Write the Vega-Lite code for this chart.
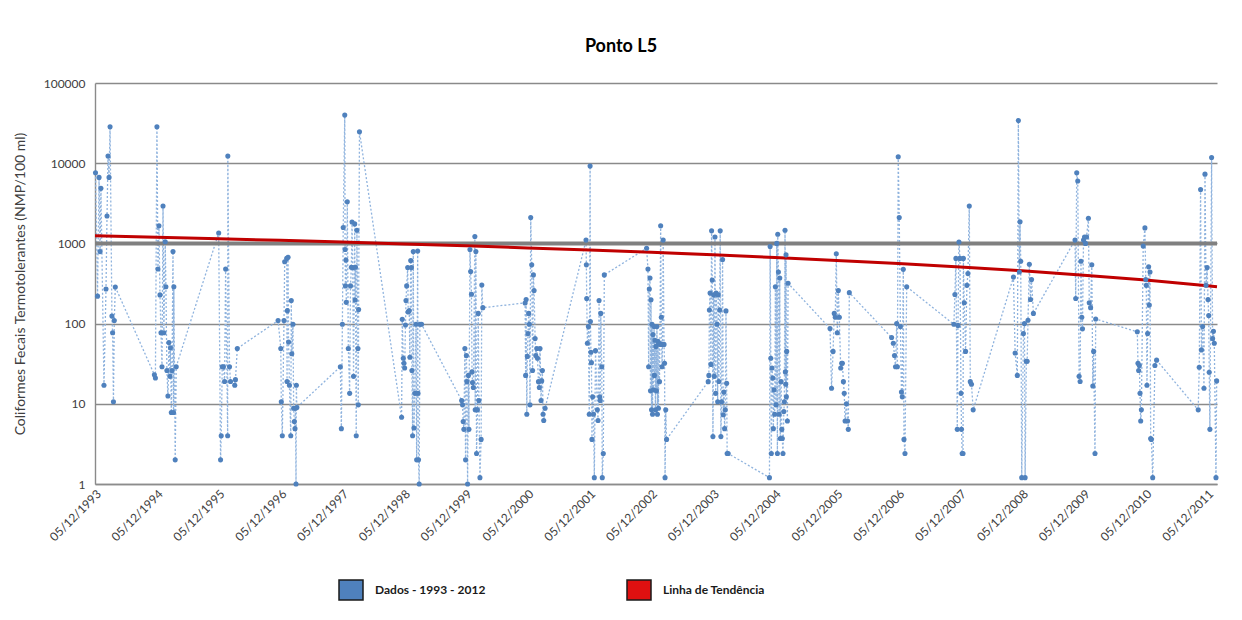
{
  "$schema": "https://vega.github.io/schema/vega-lite/v6.json",
  "width": 1122,
  "height": 401,
  "autosize": {"type": "none"},
  "padding": {"left": 95, "top": 83, "right": 25, "bottom": 136},
  "background": "white",
  "title": {"text": "Ponto L5", "font": "Lato", "fontSize": 18, "fontWeight": "bold", "color": "#000000", "anchor": "middle", "dx": -35, "offset": 21},
  "datasets": {
    "dados": [
      {"data":"1993-12-08","valor":7600},{"data":"1993-12-20","valor":220},{"data":"1993-12-29","valor":6650},{"data":"1994-01-04","valor":790},{"data":"1994-01-09","valor":4860},{"data":"1994-01-27","valor":17},{"data":"1994-02-08","valor":270},{"data":"1994-02-14","valor":2200},{"data":"1994-02-20","valor":12300},{"data":"1994-02-26","valor":6650},{"data":"1994-03-04","valor":28500},{"data":"1994-03-15","valor":124},{"data":"1994-03-19","valor":77},{"data":"1994-03-24","valor":10.6},{"data":"1994-03-29","valor":109},{"data":"1994-04-04","valor":286},
      {"data":"1994-11-21","valor":23},{"data":"1994-11-27","valor":21},{"data":"1994-12-06","valor":28500},{"data":"1994-12-12","valor":480},{"data":"1994-12-18","valor":1660},{"data":"1994-12-24","valor":228},{"data":"1994-12-30","valor":77},{"data":"1995-01-05","valor":29},{"data":"1995-01-11","valor":2930},{"data":"1995-01-16","valor":77},{"data":"1995-01-24","valor":1050},{"data":"1995-01-28","valor":288},{"data":"1995-02-03","valor":26},{"data":"1995-02-09","valor":12.5},{"data":"1995-02-15","valor":58},{"data":"1995-02-21","valor":22},{"data":"1995-02-24","valor":50},{"data":"1995-03-01","valor":7.8},{"data":"1995-03-05","valor":26},{"data":"1995-03-11","valor":790},{"data":"1995-03-14","valor":7.8},{"data":"1995-03-16","valor":288},{"data":"1995-03-24","valor":2},{"data":"1995-03-30","valor":29},
      {"data":"1995-12-06","valor":1350},{"data":"1995-12-17","valor":2},{"data":"1995-12-21","valor":4},{"data":"1995-12-27","valor":29},{"data":"1996-01-03","valor":29},{"data":"1996-01-10","valor":19},{"data":"1996-01-16","valor":478},{"data":"1996-01-28","valor":4},{"data":"1996-01-29","valor":12300},{"data":"1996-02-08","valor":29},{"data":"1996-02-14","valor":19},{"data":"1996-03-10","valor":17},{"data":"1996-03-14","valor":20},{"data":"1996-03-25","valor":49},
      {"data":"1996-11-21","valor":109},{"data":"1996-12-07","valor":49},{"data":"1996-12-10","valor":10.6},{"data":"1996-12-16","valor":4},{"data":"1996-12-26","valor":109},{"data":"1996-12-30","valor":590},{"data":"1997-01-11","valor":650},{"data":"1997-01-13","valor":19},{"data":"1997-01-15","valor":145},{"data":"1997-01-19","valor":670},{"data":"1997-01-22","valor":59},{"data":"1997-01-27","valor":17},{"data":"1997-02-04","valor":4},{"data":"1997-02-07","valor":194},{"data":"1997-02-10","valor":42},{"data":"1997-02-17","valor":98},{"data":"1997-02-21","valor":8.8},{"data":"1997-02-25","valor":6},{"data":"1997-03-01","valor":4.9},{"data":"1997-03-04","valor":8.8},{"data":"1997-03-07","valor":1},{"data":"1997-03-09","valor":17},{"data":"1997-03-12","valor":9},
      {"data":"1997-11-24","valor":29},{"data":"1997-11-30","valor":4.9},{"data":"1997-12-06","valor":98},{"data":"1997-12-11","valor":1580},{"data":"1997-12-20","valor":39800},{"data":"1997-12-22","valor":840},{"data":"1997-12-24","valor":295},{"data":"1997-12-27","valor":620},{"data":"1997-12-29","valor":184},{"data":"1998-01-04","valor":3300},{"data":"1998-01-10","valor":49},{"data":"1998-01-18","valor":13.5},{"data":"1998-01-23","valor":295},{"data":"1998-01-28","valor":505},{"data":"1998-02-01","valor":1850},{"data":"1998-02-05","valor":500},{"data":"1998-02-10","valor":22},{"data":"1998-02-17","valor":1750},{"data":"1998-02-19","valor":197},{"data":"1998-02-21","valor":505},{"data":"1998-02-26","valor":4},{"data":"1998-03-02","valor":1460},{"data":"1998-03-08","valor":49},{"data":"1998-03-10","valor":9.7},{"data":"1998-03-12","valor":150},{"data":"1998-03-17","valor":24700},
      {"data":"1998-11-21","valor":6.8},{"data":"1998-11-25","valor":113},{"data":"1998-12-01","valor":37},{"data":"1998-12-05","valor":32},{"data":"1998-12-09","valor":28},{"data":"1998-12-14","valor":96},{"data":"1998-12-17","valor":194},{"data":"1998-12-21","valor":295},{"data":"1998-12-27","valor":500},{"data":"1998-12-30","valor":140},{"data":"1999-01-05","valor":145},{"data":"1999-01-09","valor":38},{"data":"1999-01-14","valor":610},{"data":"1999-01-18","valor":500},{"data":"1999-01-21","valor":26},{"data":"1999-01-25","valor":4},{"data":"1999-01-29","valor":790},{"data":"1999-02-02","valor":5},{"data":"1999-02-08","valor":13.5},{"data":"1999-02-14","valor":98},{"data":"1999-02-18","valor":2},{"data":"1999-02-24","valor":805},{"data":"1999-02-26","valor":13.5},{"data":"1999-03-01","valor":2},{"data":"1999-03-05","valor":1},{"data":"1999-03-09","valor":98},{"data":"1999-03-19","valor":98},
      {"data":"1999-11-11","valor":11},{"data":"1999-11-16","valor":9.7},{"data":"1999-11-20","valor":6},{"data":"1999-11-24","valor":4.8},{"data":"1999-11-30","valor":49},{"data":"1999-12-04","valor":2},{"data":"1999-12-09","valor":40},{"data":"1999-12-12","valor":18.9},{"data":"1999-12-16","valor":1},{"data":"1999-12-21","valor":22.6},{"data":"1999-12-24","valor":4.8},{"data":"1999-12-30","valor":840},{"data":"2000-01-03","valor":445},{"data":"2000-01-08","valor":232},{"data":"2000-01-11","valor":25},{"data":"2000-01-14","valor":18.4},{"data":"2000-01-19","valor":16},{"data":"2000-01-28","valor":1220},{"data":"2000-01-30","valor":8.4},{"data":"2000-02-03","valor":790},{"data":"2000-02-07","valor":2.4},{"data":"2000-02-12","valor":8.4},{"data":"2000-02-17","valor":134},{"data":"2000-02-21","valor":11},{"data":"2000-02-27","valor":1.2},{"data":"2000-03-05","valor":3.6},{"data":"2000-03-09","valor":303},{"data":"2000-03-15","valor":158},
      {"data":"2000-11-20","valor":181},{"data":"2000-11-23","valor":22.6},{"data":"2000-11-26","valor":200},{"data":"2000-11-30","valor":7.4},{"data":"2000-12-03","valor":39},{"data":"2000-12-07","valor":75},{"data":"2000-12-11","valor":134},{"data":"2000-12-15","valor":98},{"data":"2000-12-19","valor":9.7},{"data":"2000-12-23","valor":2100},{"data":"2000-12-29","valor":540},{"data":"2001-01-03","valor":26},{"data":"2001-01-08","valor":405},{"data":"2001-01-12","valor":258},{"data":"2001-01-18","valor":65},{"data":"2001-01-22","valor":40},{"data":"2001-01-28","valor":49},{"data":"2001-02-01","valor":37},{"data":"2001-02-07","valor":18.9},{"data":"2001-02-12","valor":16},{"data":"2001-02-16","valor":49},{"data":"2001-02-22","valor":11},{"data":"2001-02-26","valor":19.3},{"data":"2001-03-02","valor":26},{"data":"2001-03-06","valor":7.4},{"data":"2001-03-10","valor":6.2},{"data":"2001-03-18","valor":8.8},
      {"data":"2001-11-15","valor":1100},{"data":"2001-11-17","valor":540},{"data":"2001-11-19","valor":206},{"data":"2001-11-23","valor":57},{"data":"2001-11-29","valor":92},{"data":"2001-12-04","valor":7.4},{"data":"2001-12-09","valor":9200},{"data":"2001-12-11","valor":106},{"data":"2001-12-14","valor":44},{"data":"2001-12-17","valor":32.6},{"data":"2001-12-20","valor":3.6},{"data":"2001-12-24","valor":12.2},{"data":"2001-12-29","valor":7.4},{"data":"2002-01-03","valor":1.2},{"data":"2002-01-10","valor":46},{"data":"2002-01-21","valor":8.4},{"data":"2002-01-25","valor":6.2},{"data":"2002-01-31","valor":194},{"data":"2002-02-04","valor":12.2},{"data":"2002-02-07","valor":11},{"data":"2002-02-10","valor":134},{"data":"2002-02-16","valor":29},{"data":"2002-02-19","valor":1.2},{"data":"2002-02-25","valor":2.4},{"data":"2002-03-03","valor":405},
      {"data":"2002-11-08","valor":870},{"data":"2002-11-16","valor":478},{"data":"2002-11-20","valor":29},{"data":"2002-11-24","valor":270},{"data":"2002-11-28","valor":370},{"data":"2002-12-01","valor":14.5},{"data":"2002-12-04","valor":198},{"data":"2002-12-07","valor":8.4},{"data":"2002-12-10","valor":98},{"data":"2002-12-13","valor":7.4},{"data":"2002-12-16","valor":73},{"data":"2002-12-19","valor":14.9},{"data":"2002-12-22","valor":92},{"data":"2002-12-24","valor":22.6},{"data":"2002-12-27","valor":62},{"data":"2002-12-30","valor":8.4},{"data":"2003-01-02","valor":52},{"data":"2003-01-05","valor":14.5},{"data":"2003-01-08","valor":92},{"data":"2003-01-11","valor":7.4},{"data":"2003-01-14","valor":60},{"data":"2003-01-17","valor":8.8},{"data":"2003-01-20","valor":57},{"data":"2003-01-23","valor":18.9},{"data":"2003-01-26","valor":55},{"data":"2003-01-30","valor":1660},{"data":"2003-02-03","valor":120},{"data":"2003-02-07","valor":29},{"data":"2003-02-10","valor":55},{"data":"2003-02-14","valor":1100},{"data":"2003-02-19","valor":55},{"data":"2003-02-22","valor":32},{"data":"2003-02-25","valor":1.2},{"data":"2003-03-01","valor":8.4},{"data":"2003-03-06","valor":3.6},
      {"data":"2003-11-07","valor":18.9},{"data":"2003-11-11","valor":22.6},{"data":"2003-11-14","valor":148},{"data":"2003-11-18","valor":240},{"data":"2003-11-23","valor":31},{"data":"2003-11-27","valor":1440},{"data":"2003-12-01","valor":350},{"data":"2003-12-05","valor":3.9},{"data":"2003-12-09","valor":228},{"data":"2003-12-13","valor":22},{"data":"2003-12-17","valor":1200},{"data":"2003-12-21","valor":13.5},{"data":"2003-12-24","valor":240},{"data":"2003-12-29","valor":98},{"data":"2004-01-02","valor":10.6},{"data":"2004-01-05","valor":228},{"data":"2004-01-09","valor":19},{"data":"2004-01-14","valor":148},{"data":"2004-01-17","valor":1440},{"data":"2004-01-21","valor":3.9},{"data":"2004-01-25","valor":10.6},{"data":"2004-01-31","valor":630},{"data":"2004-02-04","valor":7.3},{"data":"2004-02-08","valor":14},{"data":"2004-02-12","valor":4.9},{"data":"2004-02-16","valor":8.4},{"data":"2004-02-20","valor":144},{"data":"2004-02-24","valor":18},{"data":"2004-02-27","valor":2.4},{"data":"2004-03-04","valor":2.4},
      {"data":"2004-11-03","valor":1.2},{"data":"2004-11-07","valor":915},{"data":"2004-11-11","valor":37},{"data":"2004-11-14","valor":2.4},{"data":"2004-11-18","valor":28},{"data":"2004-11-23","valor":21},{"data":"2004-11-26","valor":4.9},{"data":"2004-11-30","valor":15},{"data":"2004-12-04","valor":7.4},{"data":"2004-12-08","valor":288},{"data":"2004-12-12","valor":9.7},{"data":"2004-12-16","valor":1000},{"data":"2004-12-20","valor":2.4},{"data":"2004-12-22","valor":1300},{"data":"2004-12-26","valor":440},{"data":"2004-12-30","valor":7.4},{"data":"2005-01-03","valor":370},{"data":"2005-01-06","valor":3.7},{"data":"2005-01-11","valor":18.9},{"data":"2005-01-15","valor":4.8},{"data":"2005-01-18","valor":3.7},{"data":"2005-01-22","valor":2.4},{"data":"2005-01-27","valor":8},{"data":"2005-01-30","valor":10.6},{"data":"2005-02-03","valor":1460},{"data":"2005-02-05","valor":25},{"data":"2005-02-07","valor":17.5},{"data":"2005-02-09","valor":720},{"data":"2005-02-11","valor":12.2},{"data":"2005-02-13","valor":45},{"data":"2005-02-17","valor":6.1},{"data":"2005-02-21","valor":318},
      {"data":"2005-10-27","valor":87},{"data":"2005-11-05","valor":15.6},{"data":"2005-11-14","valor":45},{"data":"2005-11-21","valor":134},{"data":"2005-11-27","valor":120},{"data":"2005-12-03","valor":740},{"data":"2005-12-09","valor":77},{"data":"2005-12-15","valor":258},{"data":"2005-12-21","valor":120},{"data":"2005-12-29","valor":28},{"data":"2006-01-04","valor":32},{"data":"2006-01-08","valor":32},{"data":"2006-01-14","valor":18.9},{"data":"2006-01-19","valor":13.5},{"data":"2006-01-24","valor":6.1},{"data":"2006-02-01","valor":10},{"data":"2006-02-08","valor":6.1},{"data":"2006-02-12","valor":4.8},{"data":"2006-02-18","valor":243},
      {"data":"2006-10-26","valor":67},{"data":"2006-11-05","valor":57},{"data":"2006-11-12","valor":40},{"data":"2006-11-18","valor":29},{"data":"2006-11-25","valor":100},{"data":"2006-11-29","valor":29},{"data":"2006-12-04","valor":12000},{"data":"2006-12-10","valor":2100},{"data":"2006-12-17","valor":92},{"data":"2006-12-23","valor":14},{"data":"2006-12-28","valor":12.2},{"data":"2007-01-03","valor":475},{"data":"2007-01-07","valor":3.6},{"data":"2007-01-13","valor":2.4},{"data":"2007-01-23","valor":288},
      {"data":"2007-10-29","valor":98},{"data":"2007-11-04","valor":231},{"data":"2007-11-10","valor":650},{"data":"2007-11-18","valor":4.8},{"data":"2007-11-22","valor":95},{"data":"2007-11-28","valor":1040},{"data":"2007-12-04","valor":650},{"data":"2007-12-10","valor":13.5},{"data":"2007-12-13","valor":4.8},{"data":"2007-12-17","valor":2.4},{"data":"2007-12-22","valor":2.4},{"data":"2007-12-24","valor":650},{"data":"2007-12-29","valor":182},{"data":"2008-01-06","valor":45},{"data":"2008-01-14","valor":300},{"data":"2008-01-20","valor":420},{"data":"2008-01-28","valor":2930},{"data":"2008-02-03","valor":18.9},{"data":"2008-02-10","valor":17.5},{"data":"2008-02-20","valor":8.4},
      {"data":"2008-10-15","valor":380},{"data":"2008-10-25","valor":43},{"data":"2008-11-07","valor":22.6},{"data":"2008-11-13","valor":34000},{"data":"2008-11-19","valor":440},{"data":"2008-11-23","valor":1860},{"data":"2008-11-27","valor":600},{"data":"2008-12-03","valor":1.2},{"data":"2008-12-13","valor":75},{"data":"2008-12-19","valor":100},{"data":"2008-12-23","valor":1.2},{"data":"2008-12-30","valor":34},{"data":"2009-01-04","valor":34},{"data":"2009-01-09","valor":110},{"data":"2009-01-17","valor":550},{"data":"2009-01-24","valor":200},{"data":"2009-01-30","valor":355},{"data":"2009-02-10","valor":134},
      {"data":"2009-10-14","valor":1100},{"data":"2009-10-18","valor":206},{"data":"2009-10-24","valor":7600},{"data":"2009-10-30","valor":6000},{"data":"2009-11-07","valor":22},{"data":"2009-11-13","valor":19},{"data":"2009-11-18","valor":600},{"data":"2009-11-23","valor":120},{"data":"2009-11-27","valor":86},{"data":"2009-12-03","valor":1100},{"data":"2009-12-09","valor":1200},{"data":"2009-12-15","valor":1000},{"data":"2009-12-21","valor":1200},{"data":"2010-01-01","valor":2060},{"data":"2010-01-06","valor":182},{"data":"2010-01-14","valor":158},{"data":"2010-01-21","valor":540},{"data":"2010-01-27","valor":16.7},{"data":"2010-02-01","valor":45},{"data":"2010-02-09","valor":2.4},{"data":"2010-02-13","valor":114},
      {"data":"2010-10-17","valor":79},{"data":"2010-10-21","valor":32},{"data":"2010-10-25","valor":26},{"data":"2010-10-29","valor":30},{"data":"2010-11-02","valor":13.5},{"data":"2010-11-06","valor":6.1},{"data":"2010-11-10","valor":8.4},{"data":"2010-11-21","valor":930},{"data":"2010-12-01","valor":1560},{"data":"2010-12-06","valor":355},{"data":"2010-12-09","valor":300},{"data":"2010-12-13","valor":17},{"data":"2010-12-17","valor":75},{"data":"2010-12-23","valor":510},{"data":"2010-12-27","valor":170},{"data":"2010-12-31","valor":440},{"data":"2011-01-04","valor":3.7},{"data":"2011-01-08","valor":3.6},{"data":"2011-01-16","valor":1.2},{"data":"2011-01-29","valor":30},{"data":"2011-02-08","valor":35},
      {"data":"2011-10-12","valor":8.4},{"data":"2011-10-18","valor":28.5},{"data":"2011-10-26","valor":4700},{"data":"2011-10-31","valor":47},{"data":"2011-11-07","valor":92},{"data":"2011-11-15","valor":15.6},{"data":"2011-11-21","valor":7300},{"data":"2011-11-27","valor":300},{"data":"2011-12-04","valor":500},{"data":"2011-12-09","valor":200},{"data":"2011-12-13","valor":126},{"data":"2011-12-16","valor":24.7},{"data":"2011-12-20","valor":4.8},{"data":"2011-12-30","valor":11800},{"data":"2012-01-05","valor":65},{"data":"2012-01-10","valor":80},{"data":"2012-01-15","valor":57},{"data":"2012-01-25","valor":1.2},{"data":"2012-01-29","valor":19.3}
    ],
    "tendencia": [
      {"data":"1993-12-05","tendencia":1250},{"data":"1994-12-05","tendencia":1197},{"data":"1995-12-05","tendencia":1144},{"data":"1996-12-05","tendencia":1091},{"data":"1997-12-05","tendencia":1038},{"data":"1998-12-05","tendencia":985},{"data":"1999-12-05","tendencia":932},{"data":"2000-12-05","tendencia":879},{"data":"2001-12-05","tendencia":826},{"data":"2002-12-05","tendencia":773},{"data":"2003-12-05","tendencia":720},{"data":"2004-12-05","tendencia":667},{"data":"2005-12-05","tendencia":614},{"data":"2006-12-05","tendencia":561},{"data":"2007-12-05","tendencia":508},{"data":"2008-12-05","tendencia":455},{"data":"2009-12-05","tendencia":402},{"data":"2010-12-05","tendencia":349},{"data":"2011-12-05","tendencia":296},{"data":"2012-01-31","tendencia":288}
    ],
    "limite": [{"limite": 1000}]
  },
  "layer": [
    {
      "data": {"name": "dados"},
      "mark": {"type": "line", "color": "#8fb3de", "strokeWidth": 1.3, "strokeDash": [2, 2]},
      "encoding": {
        "x": {
          "field": "data", "type": "temporal", "title": null,
          "scale": {"type": "utc", "domain": [{"year": 1993, "month": 12, "date": 5, "utc": true}, {"year": 2012, "month": 1, "date": 31, "utc": true}]},
          "axis": {
            "values": [
              {"year": 1993, "month": 12, "date": 5, "utc": true},{"year": 1994, "month": 12, "date": 5, "utc": true},{"year": 1995, "month": 12, "date": 5, "utc": true},{"year": 1996, "month": 12, "date": 5, "utc": true},{"year": 1997, "month": 12, "date": 5, "utc": true},{"year": 1998, "month": 12, "date": 5, "utc": true},{"year": 1999, "month": 12, "date": 5, "utc": true},{"year": 2000, "month": 12, "date": 5, "utc": true},{"year": 2001, "month": 12, "date": 5, "utc": true},{"year": 2002, "month": 12, "date": 5, "utc": true},{"year": 2003, "month": 12, "date": 5, "utc": true},{"year": 2004, "month": 12, "date": 5, "utc": true},{"year": 2005, "month": 12, "date": 5, "utc": true},{"year": 2006, "month": 12, "date": 5, "utc": true},{"year": 2007, "month": 12, "date": 5, "utc": true},{"year": 2008, "month": 12, "date": 5, "utc": true},{"year": 2009, "month": 12, "date": 5, "utc": true},{"year": 2010, "month": 12, "date": 5, "utc": true},{"year": 2011, "month": 12, "date": 5, "utc": true}
            ],
            "labelExpr": "utcFormat(datum.value, '%d/%m/%Y')",
            "labelAngle": -45, "labelAlign": "right", "labelBaseline": "top",
            "labelPadding": 4, "labelFont": "Lato", "labelFontSize": 12, "labelColor": "#404040",
            "labelOverlap": false, "labelBound": false, "labelFlush": false,
            "grid": false, "ticks": false, "domain": true, "domainColor": "#8c8c8c", "domainWidth": 1.5
          }
        },
        "y": {
          "field": "valor", "type": "quantitative",
          "title": "Coliformes Fecais Termotolerantes (NMP/100 ml)",
          "scale": {"type": "log", "domain": [1, 100000], "nice": false},
          "axis": {
            "values": [1, 10, 100, 1000, 10000, 100000], "format": "d",
            "grid": true, "gridColor": "#8a8a8a", "gridWidth": 1.4,
            "domain": true, "domainColor": "#8a8a8a", "domainWidth": 1.4, "ticks": false,
            "labelFont": "Lato", "labelFontSize": 12, "labelColor": "#404040", "labelPadding": 10,
            "titleFont": "Lato", "titleFontSize": 14, "titleFontWeight": "normal", "titleColor": "#404040", "titlePadding": 16
          }
        }
      }
    },
    {
      "data": {"name": "limite"},
      "mark": {"type": "rule", "color": "#808080", "strokeWidth": 4},
      "encoding": {
        "y": {"field": "limite", "type": "quantitative", "title": "Coliformes Fecais Termotolerantes (NMP/100 ml)"}
      }
    },
    {
      "data": {"name": "tendencia"},
      "mark": {"type": "line", "color": "#c00000", "strokeWidth": 3},
      "encoding": {
        "x": {"field": "data", "type": "temporal", "title": null},
        "y": {"field": "tendencia", "type": "quantitative", "title": "Coliformes Fecais Termotolerantes (NMP/100 ml)"}
      }
    },
    {
      "data": {"name": "dados"},
      "mark": {"type": "point", "filled": true, "size": 26, "opacity": 1},
      "encoding": {
        "x": {"field": "data", "type": "temporal", "title": null},
        "y": {"field": "valor", "type": "quantitative", "title": "Coliformes Fecais Termotolerantes (NMP/100 ml)"},
        "color": {
          "datum": "Dados - 1993 - 2012",
          "scale": {"domain": ["Dados - 1993 - 2012", "Linha de Tendência"], "range": ["#4f81bd", "#e01010"]},
          "legend": {
            "title": null, "orient": "none", "legendX": 243, "legendY": 494,
            "direction": "horizontal", "columns": 2, "columnPadding": 138,
            "symbolType": "M-1,-0.833L1,-0.833L1,0.833L-1,0.833Z", "symbolSize": 576,
            "symbolStrokeColor": "#1a1a1a", "symbolStrokeWidth": 1.5, "symbolOpacity": 1,
            "labelFont": "Lato", "labelFontSize": 12, "labelFontWeight": "bold", "labelColor": "#1a1a1a",
            "labelOffset": 11, "padding": 0
          }
        }
      }
    }
  ],
  "config": {
    "view": {"stroke": null}
  }
}
